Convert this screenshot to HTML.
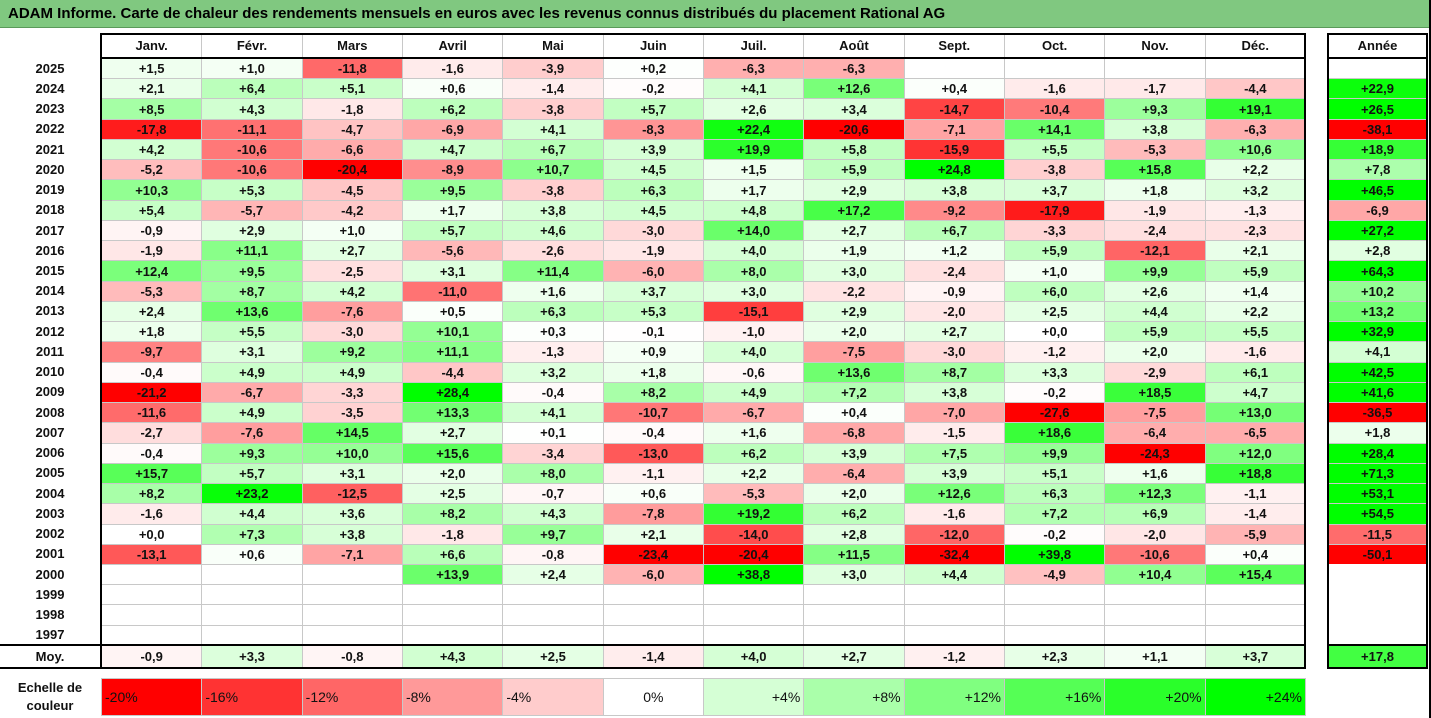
<!DOCTYPE html>
<html><head><meta charset="utf-8"><style>
body{margin:0;width:1431px;height:718px;background:#fff;position:relative;overflow:hidden;font-family:"Liberation Sans",sans-serif;}
.c{position:absolute;box-sizing:border-box;display:flex;align-items:center;justify-content:center;font-weight:bold;font-size:13px;color:#111;border:1px solid #c8c8c8;}
.l{position:absolute;box-sizing:border-box;display:flex;align-items:center;justify-content:center;font-weight:bold;font-size:13px;color:#111;}
.ln{position:absolute;background:#000;}
#title{position:absolute;left:0;top:0;width:1431px;height:28px;background:#80c880;font-weight:bold;font-size:15px;line-height:28px;padding-left:8px;box-sizing:border-box;color:#000;border-bottom:1px solid #5a9a5a;}
</style></head><body>
<div id="title">ADAM Informe. Carte de chaleur des rendements mensuels en euros avec les revenus connus distribués du placement Rational AG</div>
<div id="root"></div>
<script>
const months=["Janv.","Févr.","Mars","Avril","Mai","Juin","Juil.","Août","Sept.","Oct.","Nov.","Déc."];
const years=[2025,2024,2023,2022,2021,2020,2019,2018,2017,2016,2015,2014,2013,2012,2011,2010,2009,2008,2007,2006,2005,2004,2003,2002,2001,2000,1999,1998,1997];
const N=null;
const returns=[
[1.5,1.0,-11.8,-1.6,-3.9,0.2,-6.3,-6.3,N,N,N,N],
[2.1,6.4,5.1,0.6,-1.4,-0.2,4.1,12.6,0.4,-1.6,-1.7,-4.4],
[8.5,4.3,-1.8,6.2,-3.8,5.7,2.6,3.4,-14.7,-10.4,9.3,19.1],
[-17.8,-11.1,-4.7,-6.9,4.1,-8.3,22.4,-20.6,-7.1,14.1,3.8,-6.3],
[4.2,-10.6,-6.6,4.7,6.7,3.9,19.9,5.8,-15.9,5.5,-5.3,10.6],
[-5.2,-10.6,-20.4,-8.9,10.7,4.5,1.5,5.9,24.8,-3.8,15.8,2.2],
[10.3,5.3,-4.5,9.5,-3.8,6.3,1.7,2.9,3.8,3.7,1.8,3.2],
[5.4,-5.7,-4.2,1.7,3.8,4.5,4.8,17.2,-9.2,-17.9,-1.9,-1.3],
[-0.9,2.9,1.0,5.7,4.6,-3.0,14.0,2.7,6.7,-3.3,-2.4,-2.3],
[-1.9,11.1,2.7,-5.6,-2.6,-1.9,4.0,1.9,1.2,5.9,-12.1,2.1],
[12.4,9.5,-2.5,3.1,11.4,-6.0,8.0,3.0,-2.4,1.0,9.9,5.9],
[-5.3,8.7,4.2,-11.0,1.6,3.7,3.0,-2.2,-0.9,6.0,2.6,1.4],
[2.4,13.6,-7.6,0.5,6.3,5.3,-15.1,2.9,-2.0,2.5,4.4,2.2],
[1.8,5.5,-3.0,10.1,0.3,-0.1,-1.0,2.0,2.7,0.0,5.9,5.5],
[-9.7,3.1,9.2,11.1,-1.3,0.9,4.0,-7.5,-3.0,-1.2,2.0,-1.6],
[-0.4,4.9,4.9,-4.4,3.2,1.8,-0.6,13.6,8.7,3.3,-2.9,6.1],
[-21.2,-6.7,-3.3,28.4,-0.4,8.2,4.9,7.2,3.8,-0.2,18.5,4.7],
[-11.6,4.9,-3.5,13.3,4.1,-10.7,-6.7,0.4,-7.0,-27.6,-7.5,13.0],
[-2.7,-7.6,14.5,2.7,0.1,-0.4,1.6,-6.8,-1.5,18.6,-6.4,-6.5],
[-0.4,9.3,10.0,15.6,-3.4,-13.0,6.2,3.9,7.5,9.9,-24.3,12.0],
[15.7,5.7,3.1,2.0,8.0,-1.1,2.2,-6.4,3.9,5.1,1.6,18.8],
[8.2,23.2,-12.5,2.5,-0.7,0.6,-5.3,2.0,12.6,6.3,12.3,-1.1],
[-1.6,4.4,3.6,8.2,4.3,-7.8,19.2,6.2,-1.6,7.2,6.9,-1.4],
[0.0,7.3,3.8,-1.8,9.7,2.1,-14.0,2.8,-12.0,-0.2,-2.0,-5.9],
[-13.1,0.6,-7.1,6.6,-0.8,-23.4,-20.4,11.5,-32.4,39.8,-10.6,0.4],
[N,N,N,13.9,2.4,-6.0,38.8,3.0,4.4,-4.9,10.4,15.4],
[N,N,N,N,N,N,N,N,N,N,N,N],
[N,N,N,N,N,N,N,N,N,N,N,N],
[N,N,N,N,N,N,N,N,N,N,N,N]];
const annual=[N,22.9,26.5,-38.1,18.9,7.8,46.5,-6.9,27.2,2.8,64.3,10.2,13.2,32.9,4.1,42.5,41.6,-36.5,1.8,28.4,71.3,53.1,54.5,-11.5,-50.1,N,N,N,N];
const averages=[-0.9,3.3,-0.8,4.3,2.5,-1.4,4.0,2.7,-1.2,2.3,1.1,3.7];
const avgYear=17.8;
const scaleVals=[-20,-16,-12,-8,-4,0,4,8,12,16,20,24];

const root=document.getElementById('root');
function color(v){
  if(v===null) return '#fff';
  if(v<0){const t=Math.min(-v/20,1);const g=Math.round(255*(1-t));return `rgb(255,${g},${g})`;}
  const t=Math.min(v/24,1);const r=Math.round(255*(1-t));return `rgb(${r},255,${r})`;
}
function fmt(v){if(v===null)return '';return (v>=0?'+':'-')+Math.abs(v).toFixed(1).replace('.',',');}
const colX=i=>101+i*100.33, colW=100.33;
const yX=1328,yW=99;
const top0=58,rowH=20.24;
function div(cls,x,y,w,h,txt,bg){const d=document.createElement('div');d.className=cls;d.style.left=x+'px';d.style.top=y+'px';d.style.width=w+'px';d.style.height=h+'px';if(bg)d.style.background=bg;if(txt!==undefined)d.textContent=txt;root.appendChild(d);return d;}
function line(x,y,w,h){const d=div('ln',x,y,w,h);

}
// header
months.forEach((m,i)=>{const d=div('c',colX(i),33,colW+1,25,m);

});
{const d=div('c',yX,33,yW,25,'Année');

}
years.forEach((yr,r)=>{
  const y=top0+r*rowH;
  const lab=div('l',0,y,100,rowH,String(yr));
  
  
  returns[r].forEach((v,i)=>{const d=div('c',colX(i),y,colW+1,rowH+1,fmt(v),color(v));
  
  });
  const a=annual[r];const d=div('c',yX,y,yW,rowH+1,fmt(a),color(a));
  d.style.borderColor=a===null?'#fff':'#c8c8c8';
  
  
});
const mY=645,mH=23;
{const d=div('l',0,mY,100,mH,'Moy.');

}
averages.forEach((v,i)=>{const d=div('c',colX(i),mY,colW+1,mH,fmt(v),color(v));

});
{const d=div('c',yX,mY,yW,mH,fmt(avgYear),color(avgYear));

}
// scale
{const d=div('l',0,678,100,38,'');d.innerHTML='Echelle de<br>couleur';d.style.textAlign='center';d.style.lineHeight='18px';

}
scaleVals.forEach((v,i)=>{const d=div('c',colX(i),678,colW+1,38,v+(v>0?'':'')+'%',color(v));
if(v>0)d.textContent='+'+v+'%';
d.style.fontWeight='normal';d.style.fontSize='14px';
d.style.justifyContent=v<0?'flex-start':(v>0?'flex-end':'center');d.style.padding='0 3px';

});
// heavy borders
line(100,33,1206,2);line(100,33,2,635);line(1304,33,2,635);line(100,57,1206,2);
line(0,644,1306,2);line(0,667,1306,2);
line(1327,33,2,635);line(1426,33,2,635);line(1327,33,101,2);line(1327,57,101,2);line(1327,644,101,2);line(1327,667,101,2);
line(1429,0,2,718);
</script>
</body></html>
